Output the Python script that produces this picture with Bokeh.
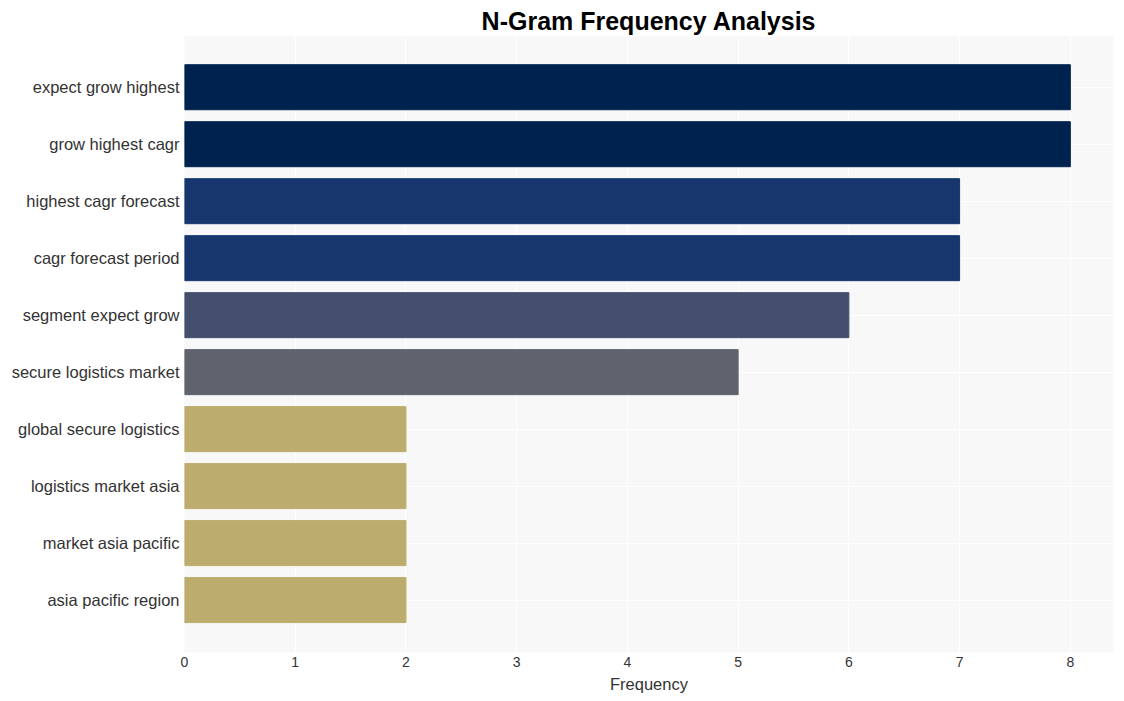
from bokeh.plotting import figure
from bokeh.models import Range1d, FixedTicker, ColumnDataSource
from bokeh.embed import file_html
from bokeh.resources import INLINE

ngrams = ["expect grow highest", "grow highest cagr", "highest cagr forecast",
          "cagr forecast period", "segment expect grow", "secure logistics market",
          "global secure logistics", "logistics market asia", "market asia pacific",
          "asia pacific region"]
freqs = [8, 8, 7, 7, 6, 5, 2, 2, 2, 2]
colors = ["#00224e", "#00224e", "#18366e", "#18366e", "#434f6c", "#5f636e",
          "#bcad6e", "#bcad6e", "#bcad6e", "#bcad6e"]
x_ticks = [0, 1, 2, 3, 4, 5, 6, 7, 8]

pos = list(range(len(ngrams)))
src = ColumnDataSource(dict(y=pos, right=freqs, color=colors, name=ngrams))

p = figure(width=1124, height=701, output_backend="svg", toolbar_location=None,
           x_range=Range1d(0, 8.39), y_range=Range1d(len(ngrams) - 1 + 0.92, -0.89),
           min_border_left=184, min_border_right=11, min_border_top=36, min_border_bottom=49)

p.hbar(y="y", right="right", left=0, height=0.79, color="color", source=src)

p.title.text = "N-Gram Frequency Analysis"
p.title.align = "center"
p.title.text_font = "Liberation Sans"
p.title.text_font_size = "25px"
p.title.text_font_style = "bold"
p.title.text_color = "#000000"
p.title.standoff = 4

p.background_fill_color = "#f8f8f8"
p.border_fill_color = "white"
p.outline_line_color = None
p.grid.grid_line_color = "white"
p.grid.grid_line_width = 1

p.xaxis.ticker = FixedTicker(ticks=x_ticks)
p.yaxis.ticker = FixedTicker(ticks=pos)
p.yaxis.major_label_overrides = {i: n for i, n in enumerate(ngrams)}
p.xaxis.axis_label = "Frequency"

for ax in (p.xaxis, p.yaxis):
    ax.axis_line_color = None
    ax.major_tick_line_color = None
    ax.minor_tick_line_color = None
    ax.major_tick_out = 0
    ax.major_tick_in = 0
    ax.minor_tick_out = 0
    ax.minor_tick_in = 0
    ax.major_label_text_font = "Liberation Sans"
    ax.major_label_text_color = "#333333"

p.yaxis.major_label_text_font_size = "16.5px"
p.yaxis.major_label_standoff = 5
p.xaxis.major_label_text_font_size = "14px"
p.xaxis.major_label_standoff = 4
p.xaxis.axis_label_text_font = "Liberation Sans"
p.xaxis.axis_label_text_font_size = "16.5px"
p.xaxis.axis_label_text_font_style = "normal"
p.xaxis.axis_label_text_color = "#333333"
p.xaxis.axis_label_standoff = 5

open("out.html", "w").write(file_html(p, INLINE))
